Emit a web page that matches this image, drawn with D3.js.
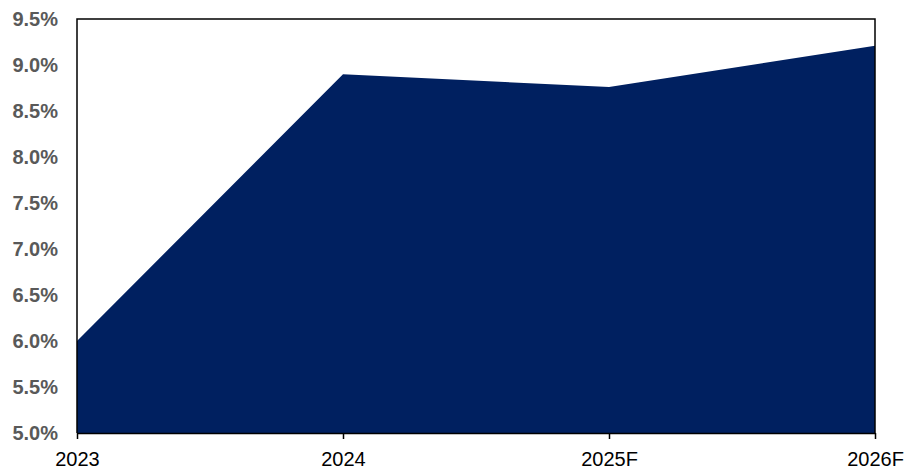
<!DOCTYPE html>
<html><head><meta charset="utf-8">
<script src="https://cdn.jsdelivr.net/npm/d3@7"></script>
<style>body{margin:0;background:#fff}svg{display:block}</style>
</head><body>
<script>
const categories = ["2023","2024","2025F","2026F"];
const values = [6.0, 8.90, 8.76, 9.21];
const yTicks = [5.0,5.5,6.0,6.5,7.0,7.5,8.0,8.5,9.0,9.5];

const W=906,H=472, m={l:77,r:31,t:19,b:39};
const svg=d3.select("body").append("svg").attr("width",W).attr("height",H);
const x=d3.scalePoint().domain(categories).range([m.l,W-m.r]);
const y=d3.scaleLinear().domain([5,9.5]).range([H-m.b,m.t]);
const data=categories.map((c,i)=>({c,v:values[i]}));
svg.append("path").datum(data)
 .attr("d",d3.area().x(d=>x(d.c)).y0(y(5)).y1(d=>y(d.v)))
 .attr("fill","#002060");
// frame
svg.append("path").attr("d",`M${m.l},${H-m.b}V${m.t}H${W-m.r}V${H-m.b}`).attr("fill","none").attr("stroke","#000").attr("stroke-width",1.5);
const ya=svg.append("g").attr("transform",`translate(${m.l-19},0)`)
 .call(d3.axisLeft(y).tickValues(yTicks).tickSize(0).tickPadding(0).tickFormat(d=>d.toFixed(1)+"%"));
ya.select(".domain").remove();
ya.selectAll("text").attr("font-family","Liberation Sans, Arial, sans-serif").attr("font-size",20).attr("font-weight","bold").attr("fill","#595959");
const xa=svg.append("g").attr("transform",`translate(0,${H-m.b})`)
 .call(d3.axisBottom(x).tickSize(6).tickSizeOuter(0));
xa.select(".domain").attr("stroke","#000").attr("stroke-width",1.5);
xa.selectAll("line").attr("stroke","#000").attr("stroke-width",1.5);
xa.selectAll("text").attr("y",33).attr("dy",0).attr("font-family","Liberation Sans, Arial, sans-serif").attr("font-size",20).attr("fill","#000");
</script>
</body></html>
